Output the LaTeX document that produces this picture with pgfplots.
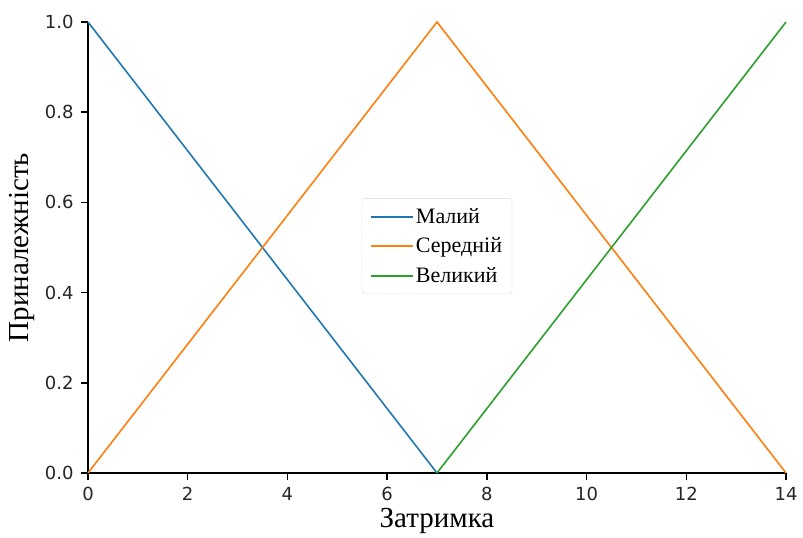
\documentclass[border=0pt]{standalone}
\usepackage{pgfplots}
\pgfplotsset{compat=1.18}
\usepackage{fontspec}
\setmainfont{Liberation Serif}
\newfontfamily\tickfont{DejaVu Sans}
\definecolor{tabblue}{HTML}{1F77B4}
\definecolor{taborange}{HTML}{FF7F0E}
\definecolor{tabgreen}{HTML}{2CA02C}
\begin{document}
\begin{tikzpicture}
\begin{axis}[
  scale only axis,
  width=698pt, height=451pt,
  xmin=0, xmax=14, ymin=0, ymax=1,
  axis x line*=bottom,
  axis y line*=left,
  axis line style={line width=1.6pt, black},
  xtick={0,2,4,6,8,10,12,14},
  ytick={0,0.2,0.4,0.6,0.8,1.0},
  y tick label style={/pgf/number format/fixed, /pgf/number format/fixed zerofill, /pgf/number format/precision=1, xshift=-4pt},
  /pgf/number format/assume math mode=true,
  tick label style={font=\fontsize{18}{20}\selectfont\tickfont, text=black!85},
  x tick label style={yshift=-4pt},
  tick pos=left,
  tick align=outside,
  major tick length=7pt,
  major tick style={draw=black, line width=1.5pt},
  xlabel={Затримка},
  ylabel={Приналежність},
  label style={font=\fontsize{29}{32}\selectfont},
  xlabel style={at={(axis description cs:0.5,-0.1064)}, anchor=center},
  ylabel style={at={(axis description cs:-0.0946,0.5)}, anchor=center},
  clip=false,
  legend style={at={(0.5,0.503)}, anchor=center, font=\fontsize{22}{25}\selectfont,
    draw=black!15, rounded corners=3pt, inner xsep=8pt, inner ysep=8pt,
    row sep=9pt},
  legend cell align=left,
  legend image code/.code={\draw[#1, line width=2pt] (0pt,0pt) -- (42pt,0pt);},
]
\addplot[tabblue, line width=1.6pt] coordinates {(0,1) (7,0)};
\addlegendentry{Малий}
\addplot[taborange, line width=1.6pt] coordinates {(0,0) (7,1) (14,0)};
\addlegendentry{Середній}
\addplot[tabgreen, line width=1.6pt] coordinates {(7,0) (14,1)};
\addlegendentry{Великий}
\coordinate (swc) at (rel axis cs:0,0);
\coordinate (nec) at (rel axis cs:1,1);
\end{axis}
\path ([xshift=-88pt,yshift=-65pt]swc) node[inner sep=0pt, minimum size=0pt] {};
\path ([xshift=17pt,yshift=22pt]nec) node[inner sep=0pt, minimum size=0pt] {};
\end{tikzpicture}
\end{document}
